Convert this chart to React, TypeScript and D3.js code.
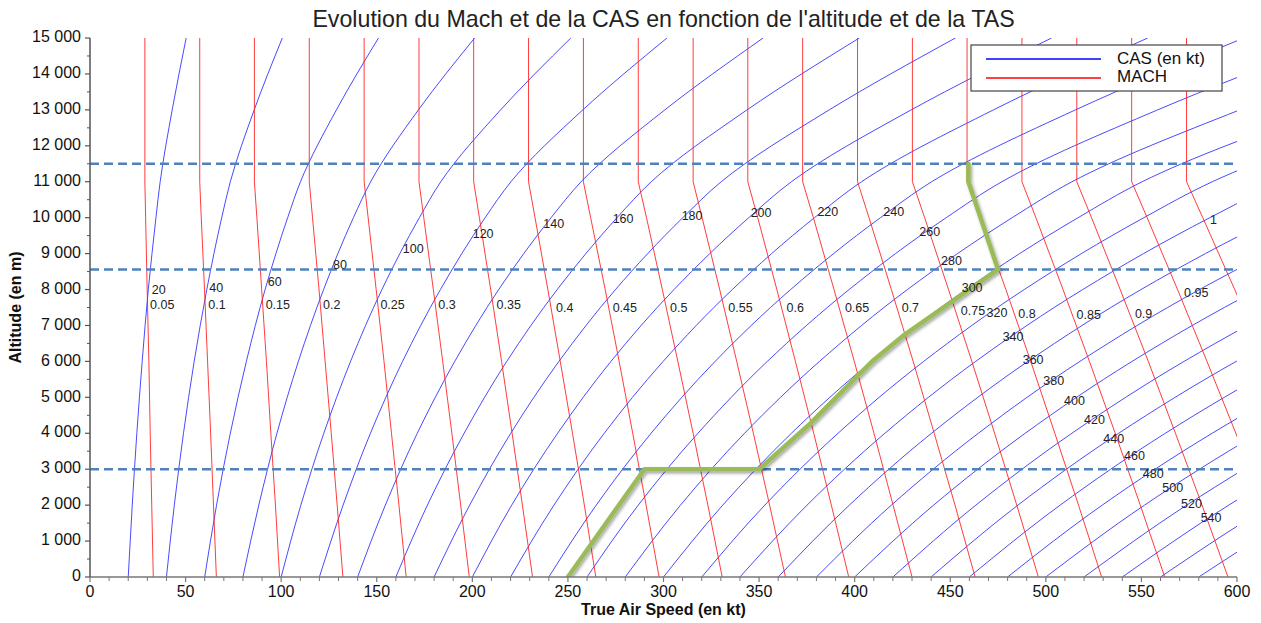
import React from "react";
import * as d3 from "d3";

const W = 1261;
const H = 623;
const FONT = "'Liberation Sans', Arial, sans-serif";

// ---- CAS curves (TAS in kt read at each altitude node, m) ----
const casValues = [20, 40, 60, 80, 100, 120, 140, 160, 180, 200, 220, 240, 260, 280, 300, 320, 340, 360, 380, 400, 420, 440, 460, 480, 500, 520, 540, 560, 580];
const casAltitudes = [0, 2000, 4000, 6000, 8000, 10000, 11000, 13000, 15000];
const casTas = [
  [20, 22.1, 24.5, 27.3, 30.5, 34.5, 36.7, 43.0, 50.3],
  [40, 44.1, 48.9, 54.5, 61.1, 68.9, 73.4, 85.9, 100.6],
  [60, 66.2, 73.4, 81.8, 91.6, 103.4, 110.1, 128.9, 150.9],
  [80, 88.3, 97.8, 109.0, 122.2, 137.8, 146.8, 171.8, 201.2],
  [100, 110.3, 122.3, 136.3, 152.7, 172.3, 183.5, 214.8, 251.5],
  [120, 132.4, 146.7, 163.5, 183.3, 206.7, 220.2, 257.8, 301.8],
  [140, 154.5, 171.2, 190.8, 213.8, 241.2, 256.9, 300.7, 352.1],
  [160, 176.5, 195.7, 218.0, 244.4, 275.7, 293.6, 343.7, 402.4],
  [180, 198.6, 220.1, 245.3, 274.9, 310.1, 330.2, 386.7, 452.7],
  [200, 220.6, 244.6, 272.5, 305.5, 344.6, 366.9, 429.6, 503.0],
  [220, 242.7, 269.0, 299.8, 336.0, 379.0, 403.6, 472.6, 553.3],
  [240, 264.8, 293.5, 327.0, 366.5, 413.5, 440.3, 515.5, 603.6],
  [260, 286.8, 318.0, 354.3, 397.1, 447.9, 477.0, 558.5, 653.9],
  [280, 308.9, 342.4, 381.6, 427.6, 482.4, 513.7, 601.5, 704.2],
  [300, 331.0, 366.9, 408.8, 458.2, 516.9, 550.4, 644.4, 754.5],
  [320, 353.0, 391.3, 436.1, 488.7, 551.3, 587.1, 687.4, 804.8],
  [340, 375.1, 415.8, 463.3, 519.3, 585.8, 623.8, 730.4],
  [360, 397.2, 440.2, 490.6, 549.8, 620.2, 660.5],
  [380, 419.2, 464.7, 517.8, 580.4, 654.7, 697.2],
  [400, 441.3, 489.2, 545.1, 610.9, 689.1],
  [420, 463.4, 513.6, 572.3, 641.5, 723.6],
  [440, 485.4, 538.1, 599.6, 672.0, 758.1],
  [460, 507.5, 562.5, 626.8, 702.6],
  [480, 529.5, 587.0, 654.1, 733.1],
  [500, 551.6, 611.4, 681.3],
  [520, 573.7, 635.9, 708.6],
  [540, 595.7, 660.4, 735.8],
  [560, 617.8, 684.8],
  [580, 639.9, 709.3],
];
// CAS labels (text left edge TAS, text centre altitude)
const casLabelText = ["20", "40", "60", "80", "100", "120", "140", "160", "180", "200", "220", "240", "260", "280", "300", "320", "340", "360", "380", "400", "420", "440", "460", "480", "500", "520", "540"];
const casLabelTas = [32.3, 62.4, 93.0, 127.1, 163.6, 200.2, 237.1, 273.4, 309.5, 345.6, 380.5, 415.0, 433.8, 445.2, 456.0, 469.0, 477.4, 487.9, 498.7, 509.5, 520.0, 530.1, 540.9, 550.7, 560.9, 570.7, 581.0];
const casLabelAlt = [8000, 8040, 8218, 8702, 9128, 9546, 9843, 9983, 10055, 10138, 10166, 10166, 9610, 8794, 8062, 7355, 6688, 6039, 5463, 4906, 4369, 3860, 3367, 2886, 2485, 2051, 1661];

// ---- Mach lines (TAS in kt at each altitude node) ----
const machValues = [0.05, 0.1, 0.15, 0.2, 0.25, 0.3, 0.35, 0.4, 0.45, 0.5, 0.55, 0.6, 0.65, 0.7, 0.75, 0.8, 0.85, 0.9, 0.95, 1];
const machAltitudes = [0, 2000, 4000, 6000, 8000, 10000, 11000, 15000];
const machTas = [
  [33.1, 32.3, 31.5, 30.8, 29.9, 29.1, 28.7, 28.7],
  [66.1, 64.6, 63.1, 61.5, 59.9, 58.2, 57.4, 57.4],
  [99.2, 97.0, 94.6, 92.3, 89.8, 87.3, 86.0, 86.0],
  [132.3, 129.3, 126.2, 123.0, 119.8, 116.4, 114.7, 114.7],
  [165.4, 161.6, 157.7, 153.8, 149.7, 145.5, 143.4, 143.4],
  [198.4, 193.9, 189.3, 184.5, 179.6, 174.6, 172.1, 172.1],
  [231.5, 226.2, 220.8, 215.3, 209.6, 203.7, 200.7, 200.7],
  [264.6, 258.6, 252.4, 246.0, 239.5, 232.8, 229.4, 229.4],
  [297.7, 290.9, 283.9, 276.8, 269.5, 261.9, 258.1, 258.1],
  [330.7, 323.2, 315.5, 307.5, 299.4, 291.1, 286.8, 286.8],
  [363.8, 355.5, 347.0, 338.3, 329.4, 320.2, 315.5, 315.5],
  [396.9, 387.8, 378.6, 369.0, 359.3, 349.3, 344.1, 344.1],
  [430.0, 420.1, 410.1, 399.8, 389.2, 378.4, 372.8, 372.8],
  [463.0, 452.5, 441.6, 430.6, 419.2, 407.5, 401.5, 401.5],
  [496.1, 484.8, 473.2, 461.3, 449.1, 436.6, 430.2, 430.2],
  [529.2, 517.1, 504.7, 492.1, 479.1, 465.7, 458.8, 458.8],
  [562.2, 549.4, 536.3, 522.8, 509.0, 494.8, 487.5, 487.5],
  [595.3, 581.7, 567.8, 553.6, 538.9, 523.9, 516.2, 516.2],
  [628.4, 614.1, 599.4, 584.3, 568.9, 553.0, 544.9, 544.9],
  [661.5, 646.4, 630.9, 615.1, 598.8, 582.1, 573.6, 573.6],
];
const machLabelText = ["0.05", "0.1", "0.15", "0.2", "0.25", "0.3", "0.35", "0.4", "0.45", "0.5", "0.55", "0.6", "0.65", "0.7", "0.75", "0.8", "0.85", "0.9", "0.95", "1"];
const machLabelTas = [31.4, 61.9, 91.9, 121.9, 151.9, 182.2, 212.7, 243.8, 273.4, 303.4, 333.9, 364.4, 394.9, 424.6, 455.5, 485.6, 516.1, 546.6, 572.3, 585.9];
const machLabelAlt = [7580, 7580, 7580, 7580, 7580, 7580, 7580, 7505, 7505, 7505, 7485, 7485, 7485, 7485, 7403, 7339, 7311, 7319, 7912, 9955];

// ---- reference altitudes and flight profile ----
const refAltitudes = [3000, 8560, 11500];
const profileTas = [250, 290, 350, 377, 401, 410, 426, 475, 459.5, 459.5];
const profileAlt = [0, 3000, 3000, 4280, 5570, 6040, 6740, 8560, 11000, 11500];

// ---- axes ----
const xMajorTicks = [0, 50, 100, 150, 200, 250, 300, 350, 400, 450, 500, 550, 600];
const yMajorTicks = [0, 1000, 2000, 3000, 4000, 5000, 6000, 7000, 8000, 9000, 10000, 11000, 12000, 13000, 14000, 15000];

const fmt = d3.formatLocale({ decimal: ".", thousands: " ", grouping: [3], currency: ["", ""] }).format(",d");

export default function App() {
  const x = d3.scaleLinear().domain([0, 600]).range([90, 1237]);
  const y = d3.scaleLinear().domain([0, 15000]).range([577, 38]);

  const smooth = d3
    .line<[number, number]>()
    .x((d) => x(d[0]))
    .y((d) => y(d[1]))
    .curve(d3.curveMonotoneY);
  const straight = d3
    .line<[number, number]>()
    .x((d) => x(d[0]))
    .y((d) => y(d[1]));

  const xMinor = d3.range(0, 601, 10).filter((v) => v % 50 !== 0);
  const yMinor = d3.range(500, 15000, 1000);

  const [x0, x1] = x.range();
  const [yb, yt] = y.range();

  const profile: [number, number][] = profileTas.map((t, i) => [t, profileAlt[i]]);

  return (
    <svg width={W} height={H} style={{ position: "absolute", left: 0, top: 0, background: "#fff" }} fontFamily={FONT}>
      <defs>
        <clipPath id="plot">
          <rect x={x0} y={yt} width={x1 - x0} height={yb - yt} />
        </clipPath>
        <filter id="shadow" x="-10%" y="-10%" width="120%" height="120%">
          <feDropShadow dx="1.5" dy="2" stdDeviation="1.5" floodColor="#000" floodOpacity="0.35" />
        </filter>
      </defs>
      <rect x={0} y={0} width={W} height={H} fill="#fff" />

      {/* title */}
      <text x={663.5} y={21} textAnchor="middle" dominantBaseline="middle" fontSize={23.2} fill="#222">
        Evolution du Mach et de la CAS en fonction de l'altitude et de la TAS
      </text>

      <g clipPath="url(#plot)">
        {/* CAS curves */}
        {casTas.map((row, i) => (
          <path
            key={"cas" + casValues[i]}
            d={smooth(row.map((t, j) => [t, casAltitudes[j]] as [number, number])) || ""}
            fill="none"
            stroke="#2a2aff"
            strokeOpacity={0.85}
            strokeWidth={1}
          />
        ))}
        {/* Mach lines */}
        {machTas.map((row, i) => (
          <path
            key={"mach" + machValues[i]}
            d={straight(row.map((t, j) => [t, machAltitudes[j]] as [number, number])) || ""}
            fill="none"
            stroke="#ff1a1a"
            strokeOpacity={0.85}
            strokeWidth={1}
          />
        ))}
        {/* reference altitudes */}
        {refAltitudes.map((a) => (
          <line key={"ref" + a} x1={x0} x2={x1} y1={y(a)} y2={y(a)} stroke="#4F81BD" strokeWidth={2.5} strokeDasharray="9 5" />
        ))}
        {/* flight profile */}
        <path
          d={straight(profile) || ""}
          fill="none"
          stroke="#9BBB59"
          strokeWidth={4.5}
          strokeLinejoin="round"
          strokeLinecap="round"
          filter="url(#shadow)"
        />
      </g>

      {/* CAS labels */}
      {casLabelText.map((t, i) => (
        <text key={"cl" + t} x={x(casLabelTas[i])} y={y(casLabelAlt[i])} dy="0.35em" fontSize={12.5} fill="#222">
          {t}
        </text>
      ))}
      {/* Mach labels */}
      {machLabelText.map((t, i) => (
        <text key={"ml" + t} x={x(machLabelTas[i])} y={y(machLabelAlt[i])} dy="0.35em" fontSize={12.5} fill="#222">
          {t}
        </text>
      ))}

      {/* axes */}
      <g>
        <line x1={x0} x2={x1} y1={yb} y2={yb} stroke="#777" strokeWidth={1.5} />
        {xMajorTicks.map((v) => (
          <g key={"xt" + v}>
            <line x1={x(v)} x2={x(v)} y1={yb} y2={yb + 5} stroke="#777" strokeWidth={1.2} />
            <text x={x(v)} y={yb + 16} textAnchor="middle" dominantBaseline="middle" fontSize={16} fill="#111">
              {fmt(v)}
            </text>
          </g>
        ))}
        {xMinor.map((v) => (
          <line key={"xm" + v} x1={x(v)} x2={x(v)} y1={yb} y2={yb + 4} stroke="#777" strokeWidth={1} />
        ))}
        <line x1={x0} x2={x0} y1={yt} y2={yb} stroke="#555" strokeWidth={1.5} />
        {yMajorTicks.map((v) => (
          <g key={"yt" + v}>
            <line x1={x0 - 5} x2={x0} y1={y(v)} y2={y(v)} stroke="#555" strokeWidth={1.2} />
            <text x={x0 - 9} y={y(v)} textAnchor="end" dominantBaseline="middle" fontSize={16} fill="#111">
              {fmt(v)}
            </text>
          </g>
        ))}
        {yMinor.map((v) => (
          <line key={"ym" + v} x1={x0 - 3} x2={x0} y1={y(v)} y2={y(v)} stroke="#555" strokeWidth={1} />
        ))}
        <text x={663.5} y={611} textAnchor="middle" dominantBaseline="middle" fontSize={16} fontWeight="bold" fill="#111">
          True Air Speed (en kt)
        </text>
        <text
          transform={`translate(17,${(yt + yb) / 2}) rotate(-90)`}
          textAnchor="middle"
          dominantBaseline="middle"
          fontSize={16}
          fontWeight="bold"
          fill="#111"
        >
          Altitude (en m)
        </text>
      </g>

      {/* legend */}
      <g>
        <rect x={971} y={45} width={251} height={46} fill="#fff" stroke="#444" strokeWidth={1.2} />
        <line x1={986} x2={1101} y1={59} y2={59} stroke="#0000ff" strokeWidth={1.5} />
        <line x1={986} x2={1101} y1={78} y2={78} stroke="#ff0000" strokeWidth={1.5} />
        <text x={1117} y={59.5} dominantBaseline="middle" fontSize={17} fill="#111">
          CAS (en kt)
        </text>
        <text x={1117} y={78} dominantBaseline="middle" fontSize={17} fill="#111">
          MACH
        </text>
      </g>
    </svg>
  );
}
